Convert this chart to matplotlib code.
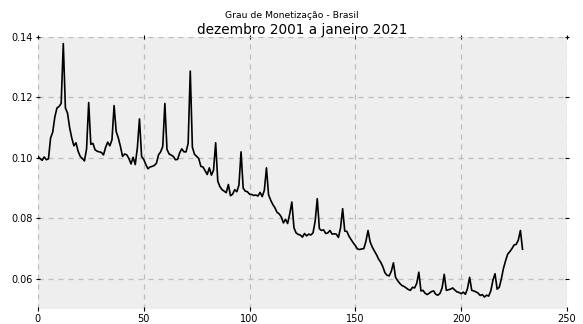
import numpy as np
import matplotlib
matplotlib.use('Agg')
import matplotlib.pyplot as plt

# Grau de monetização mensal, dez/2001 a jan/2021 (índice 0 = dez/2001)
grau = [
    0.1005, 0.0998, 0.0992, 0.1003, 0.0994, 0.0997, 0.1066, 0.1085, 0.1135, 0.1165,
    0.1170, 0.1180, 0.1378, 0.1165, 0.1148, 0.1100, 0.1066, 0.1040, 0.1050, 0.1022,
    0.1005, 0.0998, 0.0990, 0.1030, 0.1183, 0.1045, 0.1048, 0.1027, 0.1022, 0.1020,
    0.1018, 0.1010, 0.1035, 0.1052, 0.1040, 0.1060, 0.1173, 0.1087, 0.1066, 0.1038,
    0.1005, 0.1013, 0.1010, 0.0998, 0.0980, 0.1002, 0.0978, 0.1033, 0.1129, 0.1005,
    0.0995, 0.0978, 0.0964, 0.0970, 0.0972, 0.0975, 0.0982, 0.1010, 0.1020, 0.1038,
    0.1180, 0.1028, 0.1013, 0.1009, 0.1005, 0.0994, 0.0995, 0.1017, 0.1030, 0.1020,
    0.1020, 0.1048, 0.1287, 0.1035, 0.1012, 0.1005, 0.0998, 0.0972, 0.0970, 0.0958,
    0.0945, 0.0967, 0.0943, 0.0960, 0.1050, 0.0923, 0.0905, 0.0895, 0.0890, 0.0885,
    0.0912, 0.0875, 0.0880, 0.0895, 0.0888, 0.0910, 0.1020, 0.0900, 0.0890, 0.0888,
    0.0880, 0.0879, 0.0876, 0.0877, 0.0874, 0.0886, 0.0872, 0.0893, 0.0967, 0.0878,
    0.0860, 0.0846, 0.0835, 0.0820, 0.0815, 0.0805, 0.0785, 0.0797, 0.0783, 0.0815,
    0.0854, 0.0769, 0.0752, 0.0747, 0.0745, 0.0738, 0.0750, 0.0742, 0.0748, 0.0745,
    0.0752, 0.0790, 0.0865, 0.0766, 0.0760, 0.0762, 0.0750, 0.0752, 0.0760, 0.0748,
    0.0749, 0.0748, 0.0737, 0.0768, 0.0832, 0.0758, 0.0757, 0.0741, 0.0730, 0.0719,
    0.0710, 0.0699, 0.0697, 0.0699, 0.0700, 0.0724, 0.0760, 0.0722, 0.0705, 0.0692,
    0.0680, 0.0665, 0.0655, 0.0640, 0.0620, 0.0612, 0.0610, 0.0625, 0.0653, 0.0605,
    0.0594, 0.0585, 0.0578, 0.0575, 0.0570, 0.0565, 0.0562, 0.0572, 0.0570, 0.0585,
    0.0622, 0.0560, 0.0562, 0.0552, 0.0548, 0.0553, 0.0558, 0.0560, 0.0549, 0.0546,
    0.0552, 0.0570, 0.0615, 0.0562, 0.0564, 0.0566, 0.0570, 0.0563, 0.0557, 0.0555,
    0.0551, 0.0556, 0.0549, 0.0568, 0.0605, 0.0562, 0.0560, 0.0557, 0.0553, 0.0545,
    0.0548, 0.0540, 0.0546, 0.0543, 0.0560, 0.0595, 0.0617, 0.0566, 0.0572, 0.0600,
    0.0635, 0.0660, 0.0682, 0.0690, 0.0700, 0.0712, 0.0714, 0.0728, 0.0760, 0.0698,
]
meses = np.arange(len(grau))

fig = plt.figure(figsize=(5.83, 3.24), dpi=100)
ax = fig.add_axes([0.065, 0.046, 0.9075, 0.84])
ax.set_facecolor('#eeeeee')

ax.plot(meses, grau, color='black', linewidth=1.2)

ax.set_xlim(0, 250)
ax.set_ylim(0.05, 0.14)
ax.set_xticks([0, 50, 100, 150, 200, 250])
ax.set_yticks([0.06, 0.08, 0.10, 0.12, 0.14])

for s in ax.spines.values():
    s.set_visible(False)
ax.grid(True, color='#bcbcbc', linestyle=(0, (4, 4)), linewidth=0.9)
ax.set_axisbelow(True)
ax.tick_params(axis='both', labelsize=7, length=3, width=0.8, direction='inout',
               top=True, right=True, pad=2)

fig.suptitle('Grau de Monetização - Brasil', fontsize=6.7, y=0.965)
ax.set_title('dezembro 2001 a janeiro 2021', fontsize=9.8, pad=2)

fig.savefig('out.png', dpi=100)
